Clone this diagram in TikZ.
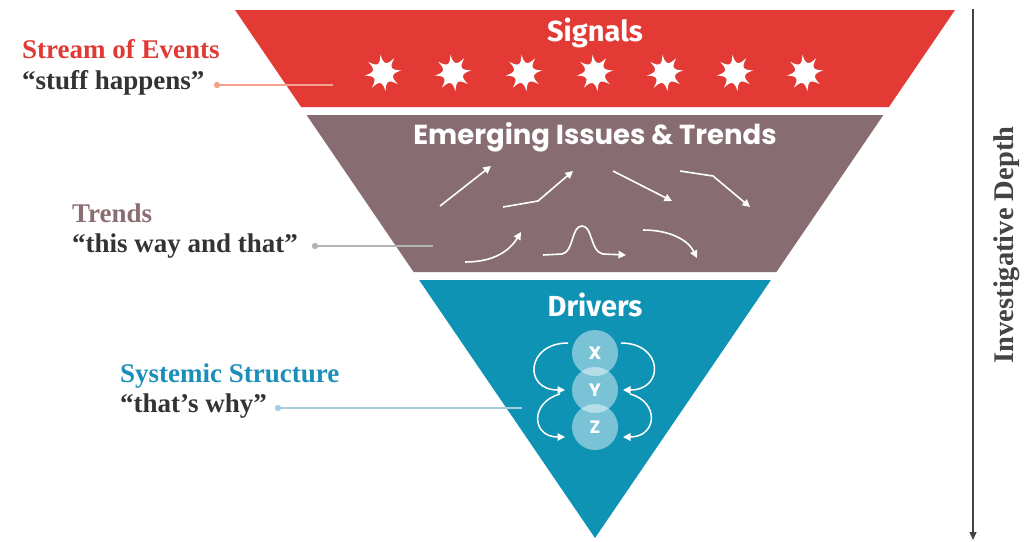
\documentclass[tikz,border=0pt]{standalone}
\usepackage{fontspec}
\setmainfont{Liberation Serif}
\newfontfamily\popfont{Poppins}
\newfontfamily\firafont{Fira Sans}
\usetikzlibrary{arrows.meta,calc}
\definecolor{sigred}{HTML}{E33A35}
\definecolor{trendbrown}{HTML}{876D71}
\definecolor{drvblue}{HTML}{0E93B5}
\definecolor{txtdark}{HTML}{333333}
\definecolor{lblred}{HTML}{E03A35}
\definecolor{lblmauve}{HTML}{8A6D72}
\definecolor{lblblue}{HTML}{1B8FB8}
\definecolor{lnsalmon}{HTML}{F2A28F}
\definecolor{lngray}{HTML}{B4B4B4}
\definecolor{lnblue}{HTML}{A6CCE0}
\definecolor{axisgray}{HTML}{444444}
\newcommand\burstat[2]{%
  \fill[white] ($(#1,#2)+(82:18.5)$)
    \foreach \k in {1,...,8}{ .. controls ($(#1,#2)+(82+45*\k-32:8.2)$) and ($(#1,#2)+(82+45*\k-13:8.2)$) .. ($(#1,#2)+(82+45*\k:18.5)$) } -- cycle;}
\tikzset{
  bandtitle/.style={text=white, inner sep=0pt},
  lblhead/.style={anchor=base west, inner sep=0pt, font=\bfseries\fontsize{27}{31}\selectfont},
  lblquote/.style={anchor=base west, inner sep=0pt, text=txtdark, font=\bfseries\fontsize{27}{31}\selectfont},
  trendarrow/.style={white, line width=1.6pt, -{Triangle[length=7.5pt,width=7.5pt]}},
  xyarrow/.style={white, line width=1.5pt, -{Triangle[length=7.5pt,width=7.5pt]}},
  xyzcircle/.style={circle, minimum size=46pt, inner sep=0pt, fill=white, fill opacity=0.45, text opacity=1, text=white, font=\popfont\bfseries\fontsize{18}{20}\selectfont},
  leader/.style={line width=1.8pt},
}
\begin{document}
\begin{tikzpicture}[x=1pt,y=-1pt]
\useasboundingbox (0,0) rectangle (1024,541);
% bands
\fill[sigred] (235,10) -- (955,10) -- (888.9,107) -- (301.1,107) -- cycle;
\fill[trendbrown] (306.6,115) -- (883.4,115) -- (776.4,272) -- (413.6,272) -- cycle;
\fill[drvblue] (419.1,280) -- (770.9,280) -- (595,538) -- cycle;
% titles
\node[bandtitle, font=\firafont\bfseries\fontsize{29}{32}\selectfont] (signals) at (595,33) {Signals};
\node[bandtitle, font=\popfont\bfseries\fontsize{27.5}{30}\selectfont] (emerging) at (595,137) {Emerging Issues \& Trends};
\node[bandtitle, font=\firafont\bfseries\fontsize{29}{32}\selectfont] (drivers) at (595,305) {Drivers};
% stars
\foreach \sx in {383,453,524,595,665,735,805}{\burstat{\sx}{73}}
% trend arrows
\draw[trendarrow] (440,206) -- (491,166);
\draw[trendarrow] (503,207) -- (538,201) -- (573,171);
\draw[trendarrow] (613,171) -- (672,201);
\draw[trendarrow] (680,171) -- (713,176) -- (750,207);
\draw[trendarrow] (465,262) .. controls (495,262) and (510,250) .. (521,232);
\draw[trendarrow] (543,255) -- (562,254) .. controls (574,252) and (571,226) .. (582,226) .. controls (593,226) and (590,252) .. (603,254) -- (626,255);
\draw[trendarrow] (643,230) .. controls (670,230) and (688,240) .. (697,258);
% drivers circles
\node[xyzcircle] (zc) at (595,427) {Z};
\node[xyzcircle] (yc) at (595,390) {Y};
\node[xyzcircle] (xc) at (595,353) {X};
\draw[xyarrow] ($(xc)+(-27,-10)$) .. controls +(-42,0) and +(-42,0) .. ($(yc)+(-30,0)$);
\draw[xyarrow] ($(yc)+(-35,4)$) .. controls +(-30,8) and +(-34,0) .. ($(zc)+(-30,10)$);
\draw[xyarrow] ($(xc)+(26,-10)$) .. controls +(42,0) and +(42,0) .. ($(yc)+(28,0)$);
\draw[xyarrow] ($(yc)+(35,4)$) .. controls +(30,8) and +(34,0) .. ($(zc)+(28,10)$);
% labels
\node[lblhead, text=lblred] (stream) at (22,58) {Stream of Events};
\node[lblquote] (stuff) at (22,89) {“stuff happens”};
\node[lblhead, text=lblmauve] (trends) at (72,222) {Trends};
\node[lblquote] (thisway) at (72,252) {“this way and that”};
\node[lblhead, text=lblblue] (systemic) at (120,382) {Systemic Structure};
\node[lblquote] (thatswhy) at (120,412) {“that’s why”};
% leaders
\coordinate (d1) at (217,85); \coordinate (e1) at (333,85);
\coordinate (d2) at (315,246); \coordinate (e2) at (433,246);
\coordinate (d3) at (278,408); \coordinate (e3) at (522,408);
\draw[leader, lnsalmon] (d1) -- (e1); \fill[lnsalmon] (d1) circle (3.2);
\draw[leader, lngray] (d2) -- (e2); \fill[lngray] (d2) circle (3.2);
\draw[leader, lnblue] (d3) -- (e3); \fill[lnblue] (d3) circle (3.2);
% axis
\coordinate (axtop) at (973,9);
\coordinate (axbot) at (973,540);
\draw[axisgray, line width=1.3pt, -{Triangle[length=8pt,width=7pt]}] (axtop) -- (axbot);
\node[rotate=90, text=axisgray, inner sep=0pt, font=\bfseries\fontsize{28.5}{32}\selectfont] (depth) at (1007,245) {Investigative Depth};
\end{tikzpicture}
\end{document}
